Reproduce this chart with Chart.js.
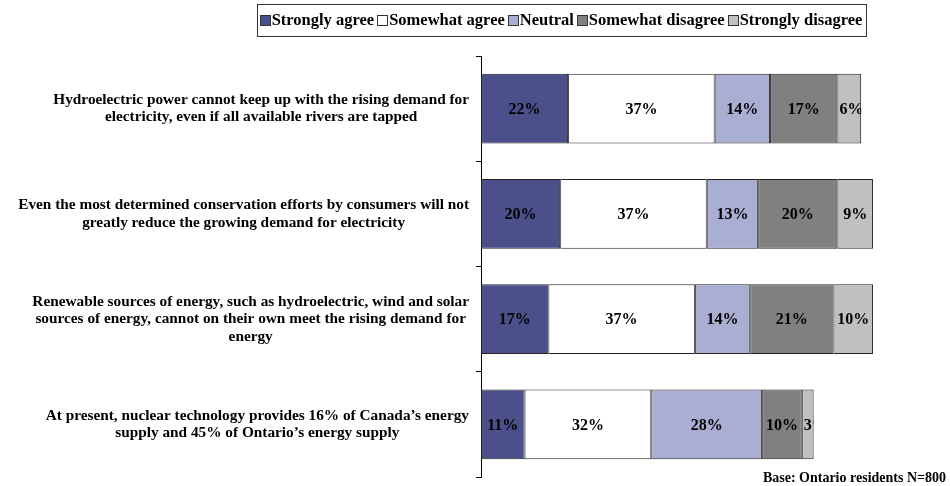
<!DOCTYPE html>
<html><head><meta charset="utf-8">
<script src="https://cdn.jsdelivr.net/npm/chart.js@4"></script>
<style>html,body{margin:0;padding:0;background:#fff}</style>
</head><body>
<canvas id="c" width="950" height="486"></canvas>
<script>
const categories = [
  ["Hydroelectric power cannot keep up with the rising demand for", "electricity, even if all available rivers are tapped"],
  ["Even the most determined conservation efforts by consumers will not", "greatly reduce the growing demand for electricity"],
  ["Renewable sources of energy, such as hydroelectric, wind and solar", "sources of energy, cannot on their own meet the rising demand for", "energy"],
  ["At present, nuclear technology provides 16% of Canada\u2019s energy", "supply and 45% of Ontario\u2019s energy supply"]
];
const seriesNames = ["Strongly agree", "Somewhat agree", "Neutral", "Somewhat disagree", "Strongly disagree"];
const stronglyAgree = [22, 20, 17, 11];
const somewhatAgree = [37, 37, 37, 32];
const neutral = [14, 13, 14, 28];
const somewhatDisagree = [17, 20, 21, 10];
const stronglyDisagree = [6, 9, 10, 3];
const footnote = "Base: Ontario residents N=800";

const seriesValues = [stronglyAgree, somewhatAgree, neutral, somewhatDisagree, stronglyDisagree];
const seriesColors = ["#4B4F8A", "#FFFFFF", "#ABAED3", "#808080", "#C0C0C0"];
const FONT = '"Liberation Serif","Times New Roman",serif';

const valueLabels = {
  id: 'valueLabels',
  afterDatasetsDraw(chart) {
    const ctx = chart.ctx;
    ctx.save();
    ctx.font = 'bold 16px ' + FONT;
    ctx.fillStyle = '#000';
    ctx.textBaseline = 'middle';
    chart.data.datasets.forEach((ds, di) => {
      const meta = chart.getDatasetMeta(di);
      meta.data.forEach((bar, i) => {
        const p = bar.getProps(['x', 'y', 'base', 'height'], true);
        const l = Math.min(p.base, p.x), r = Math.max(p.base, p.x);
        const w = r - l;
        const txt = ds.data[i] + '%';
        const tw = ctx.measureText(txt).width;
        ctx.save();
        ctx.beginPath();
        ctx.rect(l, p.y - p.height / 2, w, p.height);
        ctx.clip();
        if (tw <= w - 1) { ctx.textAlign = 'center'; ctx.fillText(txt, (l + r) / 2, p.y + 1); }
        else { ctx.textAlign = 'left'; ctx.fillText(txt, l + 2, p.y + 1); }
        ctx.restore();
      });
    });
    ctx.restore();
  }
};

const catLabels = {
  id: 'catLabels',
  afterDraw(chart) {
    const ctx = chart.ctx, ys = chart.scales.y;
    ctx.save();
    ctx.font = 'bold 15.3px ' + FONT;
    ctx.fillStyle = '#000';
    ctx.textBaseline = 'middle';
    ctx.textAlign = 'center';
    const lh = 17.5;
    const rightEdge = ys.right - 12;
    chart.data.labels.forEach((lines, i) => {
      const cy = ys.getPixelForValue(i);
      const bw = Math.max(...lines.map(s => ctx.measureText(s).width));
      const cx = rightEdge - bw / 2;
      lines.forEach((s, j) => {
        ctx.fillText(s, cx, cy + (j - (lines.length - 1) / 2) * lh);
      });
    });
    ctx.restore();
  }
};

const legendBox = {
  id: 'legendBox',
  afterDraw(chart) {
    const ctx = chart.ctx;
    ctx.save();
    ctx.font = 'bold 16.5px ' + FONT;
    ctx.textBaseline = 'middle';
    ctx.textAlign = 'left';
    const box = 10, gapIn = 2, gapOut = 3;
    const ds = chart.data.datasets;
    const widths = ds.map(d => box + gapIn + ctx.measureText(d.label).width);
    const total = widths.reduce((a, b) => a + b, 0) + gapOut * (ds.length - 1);
    const cxL = 561;
    let x = cxL - total / 2;
    const cy = 20;
    ctx.strokeStyle = '#333';
    ctx.lineWidth = 1;
    ctx.strokeRect(Math.round(x - 3) + 0.5, 4.5, Math.round(total + 6), 32);
    ds.forEach((d, i) => {
      ctx.fillStyle = d.backgroundColor;
      ctx.fillRect(Math.round(x) + 0.5, cy - 4.5, box, box);
      ctx.strokeStyle = '#333';
      ctx.strokeRect(Math.round(x) + 0.5, cy - 4.5, box, box);
      ctx.fillStyle = '#000';
      ctx.fillText(d.label, x + box + gapIn, cy + 1);
      x += widths[i] + gapOut;
    });
    ctx.font = 'bold 14px ' + FONT;
    ctx.textAlign = 'right';
    ctx.fillText(footnote, 946, 478);
    ctx.restore();
  }
};

new Chart(document.getElementById('c'), {
  type: 'bar',
  data: {
    labels: categories,
    datasets: seriesNames.map((n, i) => ({
      label: n,
      data: seriesValues[i],
      backgroundColor: seriesColors[i],
      borderColor: '#222',
      borderWidth: 1,
      borderSkipped: false,
      barPercentage: 0.665,
      categoryPercentage: 1.0
    }))
  },
  options: {
    indexAxis: 'y',
    responsive: false,
    animation: false,
    layout: { padding: { top: 56, bottom: 9, left: 0, right: 73 } },
    plugins: { legend: { display: false }, tooltip: { enabled: false } },
    scales: {
      x: { stacked: true, min: 0, max: 100, display: false },
      y: {
        stacked: true,
        offset: true,
        afterFit(scale) { scale.width = 481; },
        ticks: { display: false },
        grid: { display: true, drawOnChartArea: false, drawTicks: true, tickLength: 5, color: '#000', lineWidth: 1 },
        border: { display: true, color: '#000', width: 1 }
      }
    }
  },
  plugins: [valueLabels, catLabels, legendBox]
});
</script>
</body></html>
